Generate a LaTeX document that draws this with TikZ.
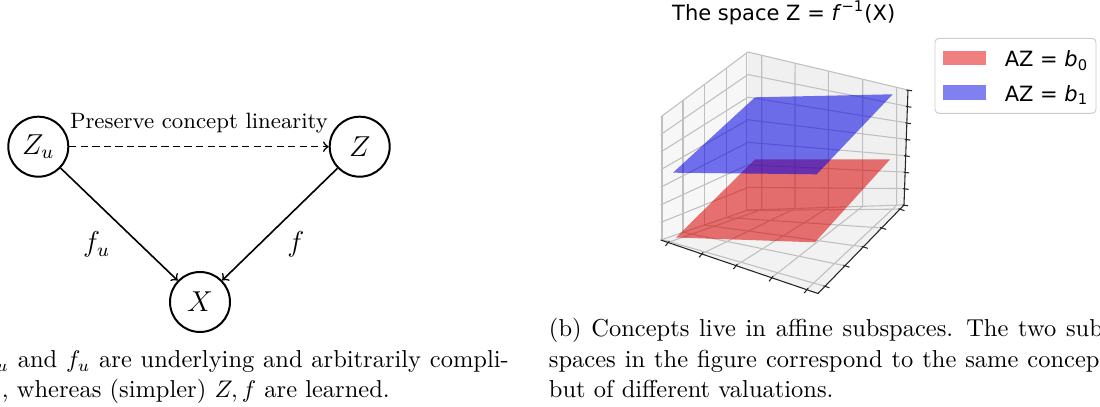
\documentclass[tikz,border=0pt]{standalone}
\usepackage{fontspec}
\newfontfamily\mplfont{DejaVu Sans}
\usetikzlibrary{calc}
\definecolor{redplane}{rgb}{0.85,0,0}
\definecolor{blueplane}{rgb}{0,0,0.9}
\definecolor{legred}{RGB}{240,128,128}
\definecolor{legblue}{RGB}{128,128,240}
\definecolor{gridc}{RGB}{192,192,192}
\newcommand{\jline}[2]{\hbox to #1{\spaceskip=0.333em plus 1fil\xspaceskip=0.444em plus 1.3fil\relax #2}}
\begin{document}
\begin{tikzpicture}[x=0.416667pt,y=-0.416667pt,
  circ/.style={circle, draw, line width=0.83pt, minimum size=25pt, inner sep=0pt, font=\fontsize{11.5}{13}\selectfont},
  arr/.style={->, line width=0.67pt},
  darr/.style={arr, dash pattern=on 3pt off 1.8pt},
  graphtxt/.style={font=\fontsize{9.25}{11}\selectfont, inner sep=0pt},
  mathlab/.style={font=\fontsize{11.5}{13}\selectfont, inner sep=0pt},
  captxt/.style={font=\fontsize{10.2}{12.2}\selectfont, inner sep=0pt},
  mpltxt/.style={font=\mplfont\fontsize{8.75}{10.5}\selectfont, inner sep=0pt},
  gridline/.style={draw=gridc, line width=0.45pt},
  axisline/.style={draw=black!85, line width=0.45pt},
  tickmark/.style={draw=black!85, line width=0.45pt},
]
\useasboundingbox (0,0) rectangle (1100,407);

% ---------- left: graph ----------
\node[circ] (Zu) at (38.3,146.7) {$Z_u$};
\node[circ] (Z) at (359.7,146.7) {$Z$};
\node[circ] (X) at (200,302) {$X$};
\draw[darr] (Zu) -- node[graphtxt, anchor=base, yshift=7.7pt] (plab) {Preserve concept linearity} (Z);
\draw[arr] (Zu) -- (X);
\draw[arr] (Z) -- (X);
\node[mathlab, anchor=base] (fu) at (96.7,252) {$f_u$};
\node[mathlab, anchor=base] (f) at (295.8,252) {$f$};

% ---------- captions ----------
\node[captxt, anchor=base west] (capa1) at (-4,367.5) {\jline{213.5pt}{${}_u$ and $f_u$ are underlying and arbitrarily compli-}};
\node[captxt, anchor=base west] (capa2) at (1.5,398) {, whereas (simpler) $Z, f$ are learned.};
\node[captxt, anchor=base west] (capb1) at (548.5,337) {\jline{230.8pt}{(b) Concepts live in affine subspaces. The two sub}};
\node[captxt, anchor=base west] (capb2) at (548.5,367.5) {\jline{229.4pt}{spaces in the figure correspond to the same concep}};
\node[captxt, anchor=base west] (capb3) at (548.5,398) {but of different valuations.};

% ---------- right: 3D plot ----------
\coordinate (L) at (660.7,240);
\coordinate (B) at (748,210);
\coordinate (R) at (904,205);
\coordinate (F) at (818,293.5);
\coordinate (TL) at (660.7,117);
\coordinate (TB) at (748,52);
\coordinate (TR) at (908,90);

% panes
\fill[black!3] (L) -- (TL) -- (TB) -- (B) -- cycle;
\fill[black!6] (B) -- (TB) -- (TR) -- (R) -- cycle;
\fill[black!5] (L) -- (B) -- (R) -- (F) -- cycle;

% grid: z levels
\foreach \t in {0,1,...,7} {
  \draw[gridline] ($(L)!{\t/7}!(TL)$) -- ($(B)!{\t/7}!(TB)$) -- ($(R)!{\t/7}!(TR)$);
}
% grid: left pane verticals
\foreach \s in {0.015,0.255,0.5,0.75,0.983} {
  \draw[gridline] ($(L)!\s!(B)$) -- ($(TL)!\s!(TB)$);
}
% grid: back pane verticals
\foreach \s/\u in {0.088/0.086,0.301/0.294,0.515/0.502,0.735/0.717,0.953/0.929} {
  \draw[gridline] ($(B)!\s!(R)$) -- ($(TB)!\u!(TR)$);
}
% grid: floor
\foreach \a/\b in {0.046/0.088,0.26/0.301,0.478/0.515,0.705/0.735,0.928/0.953} {
  \draw[gridline] ($(L)!\a!(F)$) -- ($(B)!\b!(R)$);
}
\foreach \a/\b in {0.081/0.015,0.314/0.255,0.527/0.5,0.741/0.75,0.953/0.983} {
  \draw[gridline] ($(F)!\a!(R)$) -- ($(L)!\b!(B)$);
}

% planes
\fill[redplane, opacity=0.55] (755,159.3) -- (890,159.5) -- (815,242.3) -- (676,237.5) -- cycle;
\fill[blueplane, opacity=0.55] (755,97.3) -- (892.7,94.3) -- (816.7,174.3) -- (673,172.7) -- cycle;

% axes
\draw[axisline] (L) -- (F) -- (R) -- (TR);
\foreach \a in {0.046,0.26,0.478,0.705,0.928} {
  \draw[tickmark] ($(L)!\a!(F)+(1.5,-1.5)$) -- ++(-4,5);
}
\foreach \a in {0.081,0.314,0.527,0.741,0.953} {
  \draw[tickmark] ($(F)!\a!(R)+(-1.5,-0.5)$) -- ++(6,2);
}
\foreach \t in {0,1,...,7} {
  \draw[tickmark] ($(R)!{\t/7}!(TR)+(-1.5,0)$) -- ++(5.5,0.8);
}

% title
\node[mpltxt, anchor=base west] (title) at (671.7,20.7) {The space Z = \textit{f}\textsuperscript{−1}(X)};

% legend
\draw[black!20, fill=white, rounded corners=1.7pt, line width=0.4pt] (935,38.3) rectangle (1096,113.3);
\fill[legred] (943.3,50.7) rectangle (985.7,65);
\fill[legblue] (943.3,85) rectangle (985.7,100);
\node[mpltxt, anchor=base west] (lg0) at (1004.3,67) {AZ = \textit{b}\textsubscript{0}};
\node[mpltxt, anchor=base west] (lg1) at (1004.3,101.3) {AZ = \textit{b}\textsubscript{1}};
\end{tikzpicture}
\end{document}
